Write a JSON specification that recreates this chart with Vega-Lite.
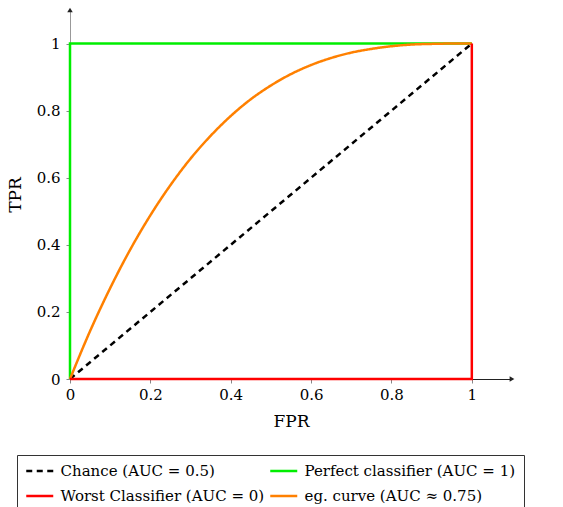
{
  "$schema": "https://vega.github.io/schema/vega-lite/v6.json",
  "width": 442,
  "height": 369,
  "autosize": {"type": "none"},
  "padding": {"left": 70, "top": 10, "right": 51, "bottom": 128},
  "config": {
    "font": "DejaVu Serif",
    "view": {"stroke": null}
  },
  "datasets": {
    "roc": [
      {"series": "Perfect classifier (AUC = 1)", "i": 0, "fpr": 0, "tpr": 0},
      {"series": "Perfect classifier (AUC = 1)", "i": 1, "fpr": 0, "tpr": 1},
      {"series": "Perfect classifier (AUC = 1)", "i": 2, "fpr": 1, "tpr": 1},
      {"series": "Chance (AUC = 0.5)", "i": 0, "fpr": 0, "tpr": 0},
      {"series": "Chance (AUC = 0.5)", "i": 1, "fpr": 1, "tpr": 1},
      {"series": "eg. curve (AUC ≈ 0.75)", "i": 0, "fpr": 0, "tpr": 0},
      {"series": "eg. curve (AUC ≈ 0.75)", "i": 1, "fpr": 0.05, "tpr": 0.143},
      {"series": "eg. curve (AUC ≈ 0.75)", "i": 2, "fpr": 0.1, "tpr": 0.271},
      {"series": "eg. curve (AUC ≈ 0.75)", "i": 3, "fpr": 0.15, "tpr": 0.386},
      {"series": "eg. curve (AUC ≈ 0.75)", "i": 4, "fpr": 0.2, "tpr": 0.488},
      {"series": "eg. curve (AUC ≈ 0.75)", "i": 5, "fpr": 0.25, "tpr": 0.578},
      {"series": "eg. curve (AUC ≈ 0.75)", "i": 6, "fpr": 0.3, "tpr": 0.657},
      {"series": "eg. curve (AUC ≈ 0.75)", "i": 7, "fpr": 0.35, "tpr": 0.725},
      {"series": "eg. curve (AUC ≈ 0.75)", "i": 8, "fpr": 0.4, "tpr": 0.784},
      {"series": "eg. curve (AUC ≈ 0.75)", "i": 9, "fpr": 0.45, "tpr": 0.834},
      {"series": "eg. curve (AUC ≈ 0.75)", "i": 10, "fpr": 0.5, "tpr": 0.875},
      {"series": "eg. curve (AUC ≈ 0.75)", "i": 11, "fpr": 0.55, "tpr": 0.909},
      {"series": "eg. curve (AUC ≈ 0.75)", "i": 12, "fpr": 0.6, "tpr": 0.936},
      {"series": "eg. curve (AUC ≈ 0.75)", "i": 13, "fpr": 0.65, "tpr": 0.957},
      {"series": "eg. curve (AUC ≈ 0.75)", "i": 14, "fpr": 0.7, "tpr": 0.973},
      {"series": "eg. curve (AUC ≈ 0.75)", "i": 15, "fpr": 0.75, "tpr": 0.984},
      {"series": "eg. curve (AUC ≈ 0.75)", "i": 16, "fpr": 0.8, "tpr": 0.992},
      {"series": "eg. curve (AUC ≈ 0.75)", "i": 17, "fpr": 0.85, "tpr": 0.997},
      {"series": "eg. curve (AUC ≈ 0.75)", "i": 18, "fpr": 0.9, "tpr": 0.999},
      {"series": "eg. curve (AUC ≈ 0.75)", "i": 19, "fpr": 0.95, "tpr": 1},
      {"series": "eg. curve (AUC ≈ 0.75)", "i": 20, "fpr": 1, "tpr": 1},
      {"series": "Worst Classifier (AUC = 0)", "i": 0, "fpr": 0, "tpr": 0},
      {"series": "Worst Classifier (AUC = 0)", "i": 1, "fpr": 1, "tpr": 0},
      {"series": "Worst Classifier (AUC = 0)", "i": 2, "fpr": 1, "tpr": 1}
    ],
    "arrows": [
      {"fpr": 1.1, "tpr": 0, "shape": "triangle-right"},
      {"fpr": 0, "tpr": 1.1, "shape": "triangle-up"}
    ]
  },
  "encoding": {
    "x": {
      "field": "fpr",
      "type": "quantitative",
      "scale": {"domain": [0, 1.1], "nice": false, "zero": false},
      "axis": {
        "title": "FPR",
        "values": [0, 0.2, 0.4, 0.6, 0.8, 1],
        "format": "~g",
        "grid": false,
        "labelFlush": false,
        "domainColor": "#222222",
        "domainWidth": 1,
        "tickColor": "#888888",
        "tickSize": 4,
        "labelFontSize": 15,
        "labelColor": "#000000",
        "labelPadding": 4,
        "titleFontSize": 17,
        "titleFontWeight": "normal",
        "titleColor": "#000000",
        "titlePadding": 11
      }
    },
    "y": {
      "field": "tpr",
      "type": "quantitative",
      "scale": {"domain": [0, 1.1], "nice": false, "zero": false},
      "axis": {
        "title": "TPR",
        "values": [0, 0.2, 0.4, 0.6, 0.8, 1],
        "format": "~g",
        "grid": false,
        "labelFlush": false,
        "domainColor": "#999999",
        "domainWidth": 1,
        "tickColor": "#888888",
        "tickSize": 4,
        "labelFontSize": 15,
        "labelColor": "#000000",
        "labelPadding": 6,
        "titleFontSize": 17,
        "titleFontWeight": "normal",
        "titleColor": "#000000",
        "titlePadding": 12
      }
    }
  },
  "layer": [
    {
      "data": {"name": "roc"},
      "transform": [{"filter": "datum.series === 'Perfect classifier (AUC = 1)'"}],
      "mark": {"type": "line", "strokeWidth": 2.5},
      "encoding": {
        "order": {"field": "i", "type": "quantitative"},
        "color": {"field": "series", "type": "nominal", "scale": {"domain": ["Chance (AUC = 0.5)", "Worst Classifier (AUC = 0)", "Perfect classifier (AUC = 1)", "eg. curve (AUC ≈ 0.75)"], "range": ["#000000", "#ff0000", "#00ee00", "#ff8000"]}},
        "strokeDash": {"field": "series", "type": "nominal", "scale": {"domain": ["Chance (AUC = 0.5)", "Worst Classifier (AUC = 0)", "Perfect classifier (AUC = 1)", "eg. curve (AUC ≈ 0.75)"], "range": [[6, 4.5], [1, 0], [1, 0], [1, 0]]}}
      }
    },
    {
      "data": {"name": "roc"},
      "transform": [{"filter": "datum.series === 'Chance (AUC = 0.5)'"}],
      "mark": {"type": "line", "strokeWidth": 2.5},
      "encoding": {
        "order": {"field": "i", "type": "quantitative"},
        "color": {"field": "series", "type": "nominal"},
        "strokeDash": {"field": "series", "type": "nominal"}
      }
    },
    {
      "data": {"name": "roc"},
      "transform": [{"filter": "datum.series === 'eg. curve (AUC ≈ 0.75)'"}],
      "mark": {"type": "line", "strokeWidth": 2.5, "interpolate": "monotone"},
      "encoding": {
        "order": {"field": "i", "type": "quantitative"},
        "color": {"field": "series", "type": "nominal"},
        "strokeDash": {"field": "series", "type": "nominal"}
      }
    },
    {
      "data": {"name": "roc"},
      "transform": [{"filter": "datum.series === 'Worst Classifier (AUC = 0)'"}],
      "mark": {"type": "line", "strokeWidth": 2.5},
      "encoding": {
        "order": {"field": "i", "type": "quantitative"},
        "color": {
          "field": "series",
          "type": "nominal",
          "legend": {
            "title": null,
            "orient": "none",
            "legendX": -53,
            "legendY": 445,
            "columns": 2,
            "columnPadding": 0,
            "rowPadding": 9,
            "padding": 8,
            "strokeColor": "#333333",
            "symbolType": "M-1,0L3,0",
            "symbolSize": 182.25,
            "symbolStrokeWidth": 2.5,
            "labelFontSize": 15,
            "labelColor": "#000000",
            "labelLimit": 0,
            "labelOffset": 19.5
          }
        },
        "strokeDash": {"field": "series", "type": "nominal"}
      }
    },
    {
      "data": {"name": "arrows"},
      "mark": {"type": "point", "filled": true, "size": 30, "color": "#222222", "opacity": 1},
      "encoding": {
        "shape": {"field": "shape", "type": "nominal", "scale": null, "legend": null}
      }
    }
  ]
}
